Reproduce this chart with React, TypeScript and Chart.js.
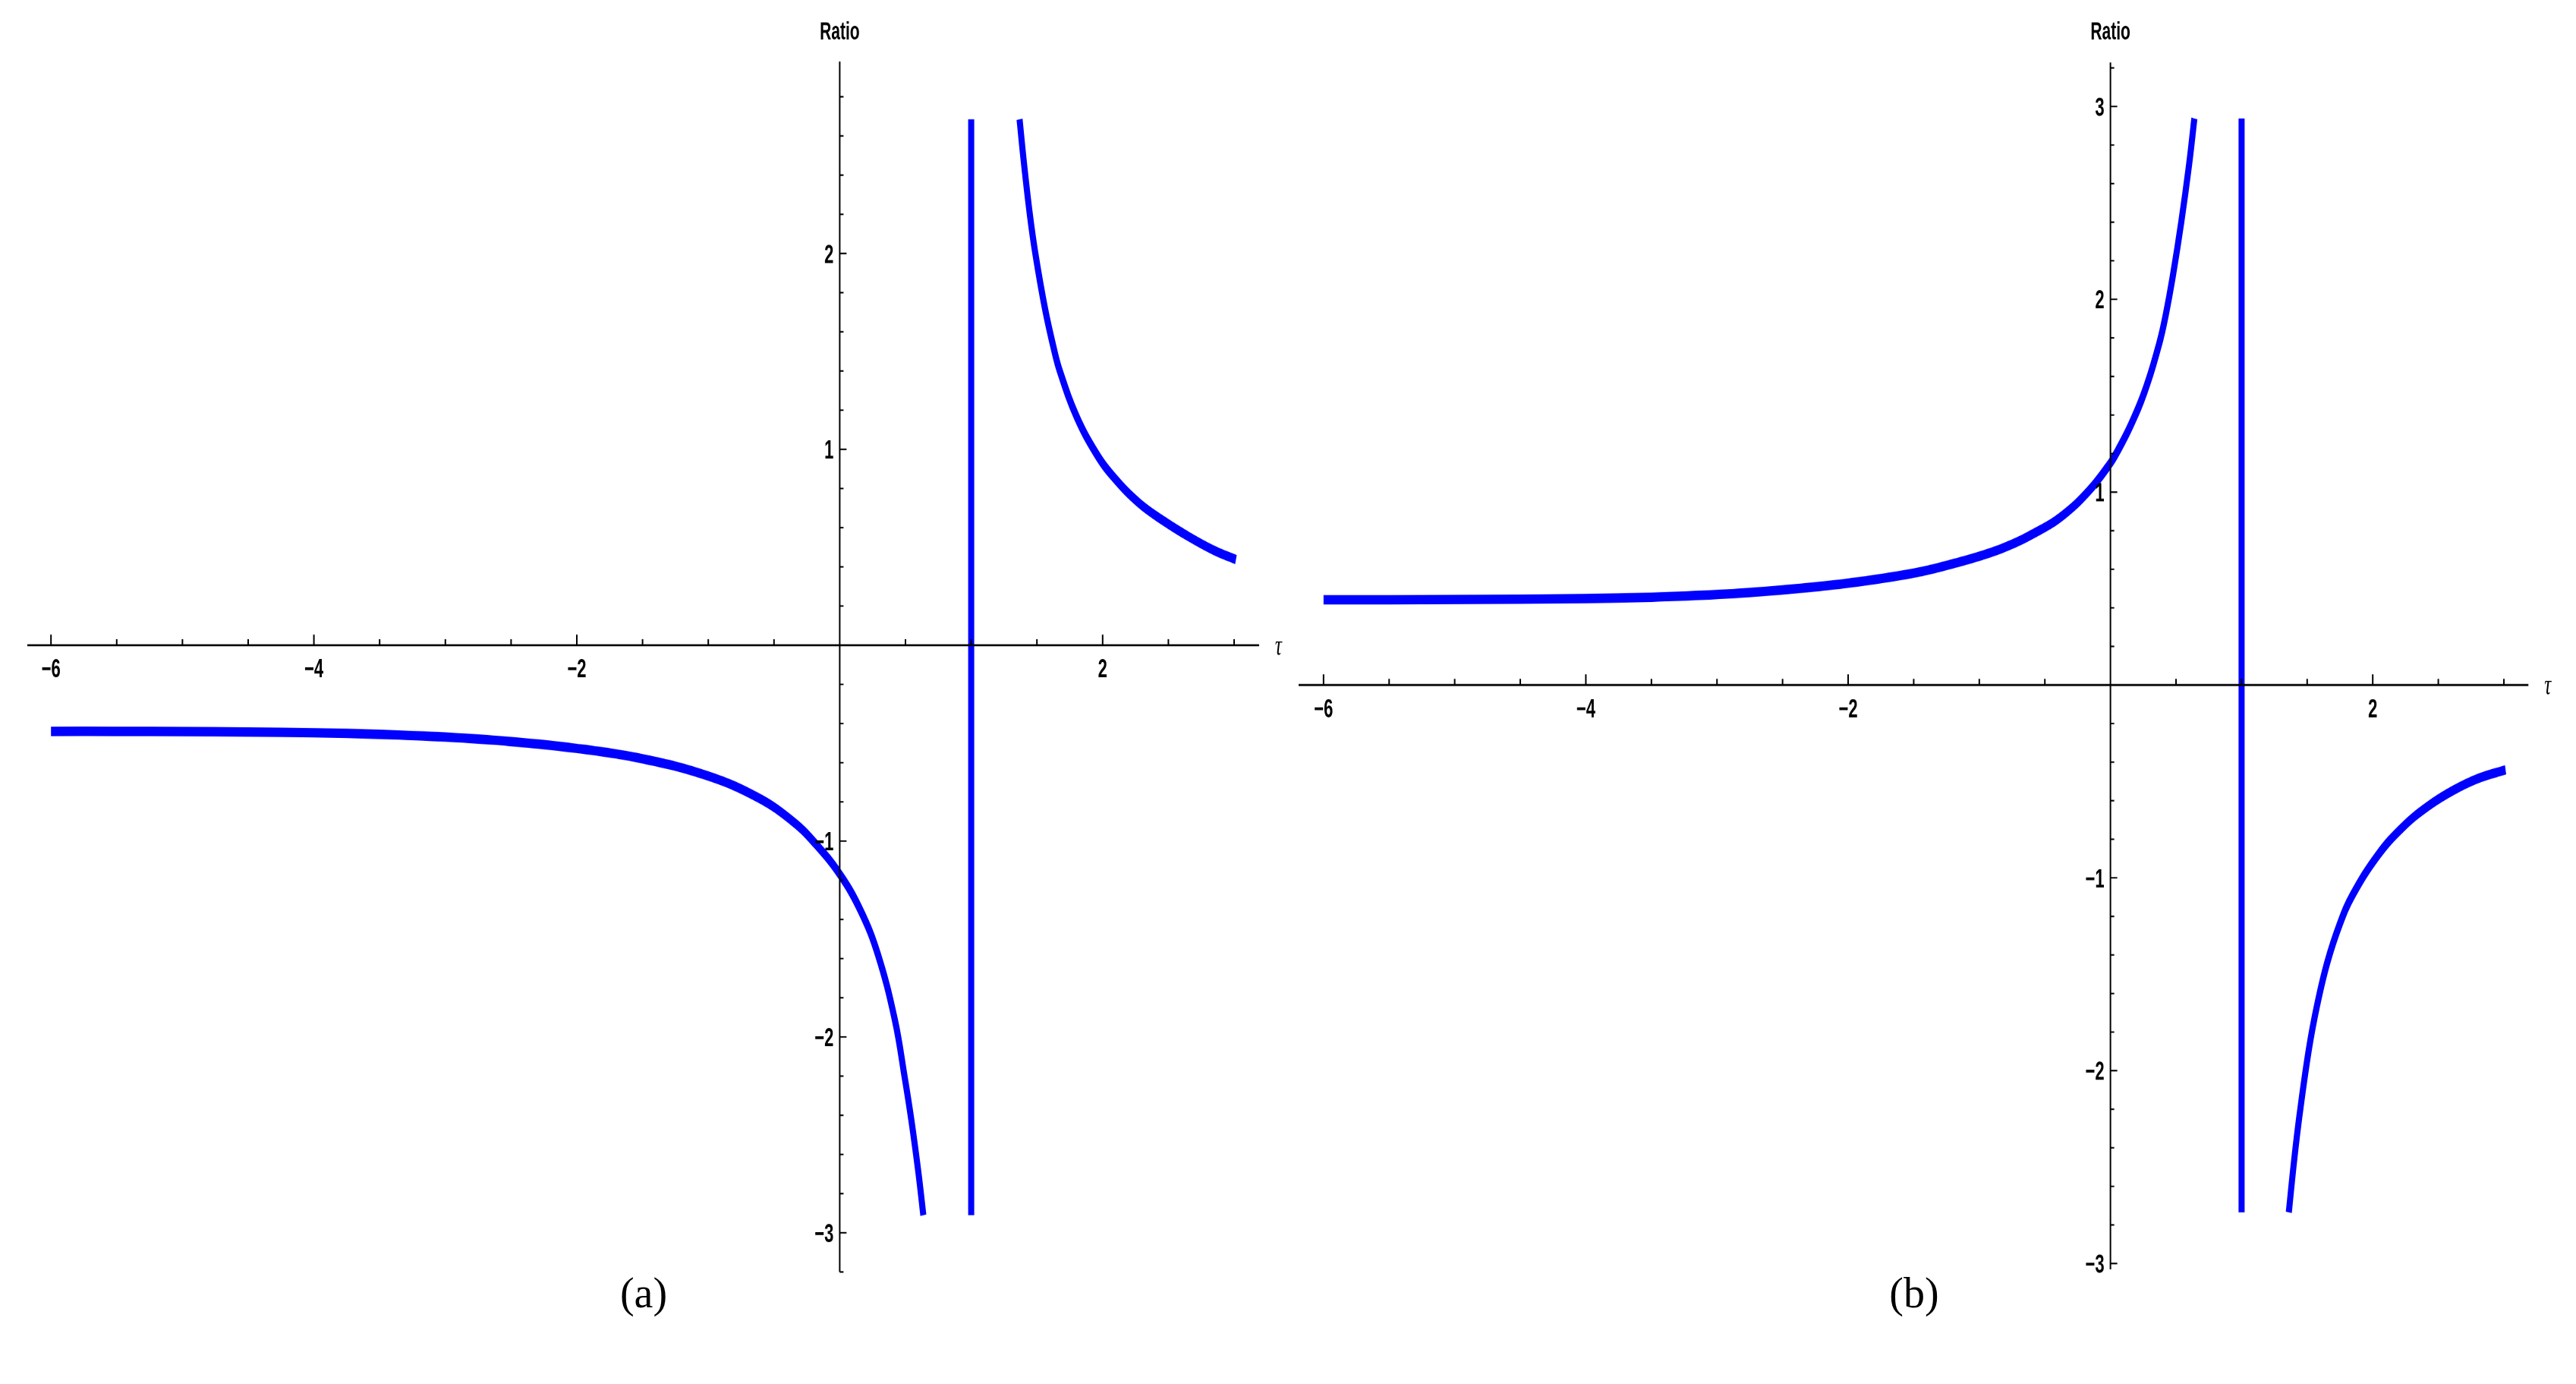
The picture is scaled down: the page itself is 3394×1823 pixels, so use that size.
import React, { useEffect, useRef } from "react";
import { Chart, registerables } from "chart.js";

Chart.register(...registerables);

// ---------------- data ----------------
// Panel (a)
const aLeftTau = [-6, -5.5, -5, -4.5, -4, -3.5, -3, -2.5, -2, -1.5, -1, -0.614, -0.356, -0.2, 0, 0.159, 0.29, 0.419, 0.495, 0.546, 0.598, 0.636];
const aLeftRatio = [-0.44, -0.44, -0.441, -0.443, -0.447, -0.455, -0.469, -0.492, -0.527, -0.58, -0.668, -0.781, -0.9, -1.002, -1.169, -1.355, -1.578, -1.912, -2.21, -2.43, -2.69, -2.91];
const aRightTau = [1.368, 1.4, 1.446, 1.488, 1.561, 1.63, 1.674, 1.8, 1.95, 2.081, 2.273, 2.465, 2.658, 2.85, 3.014];
const aRightRatio = [2.685, 2.47, 2.2, 2.0, 1.72, 1.51, 1.4, 1.17, 0.98, 0.86, 0.728, 0.634, 0.553, 0.483, 0.437];
const aPoleTau = [1, 1];
const aPoleRatio = [-2.91, 2.685];

// Panel (b)
const bLeftTau = [-6, -5.5, -5, -4.5, -4, -3.5, -3, -2.5, -2, -1.5, -1.22, -0.835, -0.546, -0.353, -0.16, 0, 0.052, 0.15, 0.26, 0.372, 0.422, 0.478, 0.54, 0.6, 0.64];
const bLeftRatio = [0.442, 0.442, 0.443, 0.445, 0.448, 0.455, 0.469, 0.493, 0.528, 0.58, 0.625, 0.706, 0.8, 0.885, 1.01, 1.151, 1.21, 1.34, 1.52, 1.77, 1.92, 2.13, 2.4, 2.7, 2.938];
const bRightTau = [1.36, 1.4, 1.441, 1.512, 1.576, 1.653, 1.75, 1.846, 2.039, 2.232, 2.425, 2.618, 2.811, 3.013];
const bRightRatio = [-2.735, -2.47, -2.235, -1.894, -1.66, -1.44, -1.238, -1.09, -0.883, -0.735, -0.627, -0.545, -0.483, -0.44];
const bPoleTau = [1, 1];
const bPoleRatio = [-2.735, 2.938];

// Tick labels
const xTickLabels = [-6, -4, -2, 2];
const aYTickLabels = [2, 1, -1, -2, -3];
const bYTickLabels = [3, 2, 1, -1, -2, -3];
const xMinorStep = 0.5;
const yMinorStep = 0.2;

const axisTitle = "Ratio";
const tauLabel = "τ";
const panelLabels = ["(a)", "(b)"];

// ---------------- layout ----------------
const H0 = 1176;
const K = 1823 / H0; // vertical stretch of the figure

const BLUE = "#0000ff";

function fmt(v: number) {
  return v < 0 ? "\u2212" + Math.abs(v) : String(v);
}

function pts(xs: number[], ys: number[]) {
  return xs.map((x, i) => ({ x, y: ys[i] }));
}

const axesPlugin = {
  id: "mmaAxes",
  afterDatasetsDraw(chart: any, _args: any, opts: any) {
    const { ctx, chartArea } = chart;
    const xs = chart.scales.x;
    const ys = chart.scales.y;
    const x0 = xs.getPixelForValue(0);
    const y0 = ys.getPixelForValue(0);
    ctx.save();
    ctx.strokeStyle = "#000";
    ctx.fillStyle = "#000";
    ctx.lineCap = "butt";

    // axis lines
    ctx.lineWidth = 1.8;
    ctx.beginPath();
    ctx.moveTo(chartArea.left, y0);
    ctx.lineTo(chartArea.right, y0);
    ctx.stroke();
    ctx.lineWidth = 2;
    ctx.beginPath();
    ctx.moveTo(x0, chartArea.top);
    ctx.lineTo(x0, chartArea.bottom);
    ctx.stroke();

    // x ticks (pointing up)
    ctx.lineWidth = 2;
    const xi0 = Math.ceil(xs.min / xMinorStep - 1e-9);
    const xi1 = Math.floor(xs.max / xMinorStep + 1e-9);
    for (let i = xi0; i <= xi1; i++) {
      if (i === 0) continue;
      const v = i * xMinorStep;
      const major = Math.abs(v / 2 - Math.round(v / 2)) < 1e-9;
      const px = xs.getPixelForValue(v);
      ctx.beginPath();
      ctx.moveTo(px, y0);
      ctx.lineTo(px, y0 - (major ? 9 : 5.2));
      ctx.stroke();
    }

    // y ticks (pointing right)
    ctx.lineWidth = 1.3;
    const yi0 = Math.ceil(ys.min / yMinorStep - 1e-9);
    const yi1 = Math.floor(ys.max / yMinorStep + 1e-9);
    for (let i = yi0; i <= yi1; i++) {
      if (i === 0) continue;
      const v = i * yMinorStep;
      const major = Math.abs(v - Math.round(v)) < 1e-9;
      const py = ys.getPixelForValue(v);
      ctx.beginPath();
      ctx.moveTo(x0, py);
      ctx.lineTo(x0 + (major ? 9 : 5), py);
      ctx.stroke();
    }

    // tick labels
    ctx.font = 'bold 22px "Liberation Sans", Arial, sans-serif';
    ctx.textBaseline = "alphabetic";
    ctx.textAlign = "center";
    for (const v of opts.xLabels as number[]) {
      ctx.fillText(fmt(v), xs.getPixelForValue(v), y0 + 27.4);
    }
    ctx.textAlign = "right";
    for (const v of opts.yLabels as number[]) {
      ctx.fillText(fmt(v), x0 - 8, ys.getPixelForValue(v) + 7.9);
    }

    // axis titles
    ctx.font = 'bold 21px "Liberation Sans", Arial, sans-serif';
    ctx.textAlign = "center";
    ctx.fillText(axisTitle, x0, 33.3);
    ctx.font = 'italic 25px "Liberation Serif", "DejaVu Serif", serif';
    ctx.textAlign = "left";
    ctx.fillText(tauLabel, chartArea.right + 21, y0 + 8.2);
    ctx.restore();
  },
};

type PlotProps = {
  left: number;
  width: number;
  padding: { left: number; right: number; top: number; bottom: number };
  xMin: number;
  xMax: number;
  yMin: number;
  yMax: number;
  curves: { x: number; y: number }[][];
  pole: { x: number; y: number }[];
  yLabels: number[];
};

function Plot(p: PlotProps) {
  const ref = useRef<HTMLCanvasElement | null>(null);
  useEffect(() => {
    if (!ref.current) return;
    const datasets: any[] = p.curves.map((c) => ({
      data: c,
      borderColor: BLUE,
      borderWidth: 8,
      pointRadius: 0,
      fill: false,
      tension: 0.4,
      borderCapStyle: "butt",
      borderJoinStyle: "round",
    }));
    datasets.push({
      data: p.pole,
      borderColor: BLUE,
      borderWidth: 8,
      pointRadius: 0,
      fill: false,
      tension: 0,
      borderCapStyle: "butt",
    });
    const chart = new Chart(ref.current, {
      type: "line",
      data: { datasets },
      options: {
        responsive: false,
        animation: false,
        devicePixelRatio: 2,
        events: [],
        layout: { padding: p.padding },
        scales: {
          x: { type: "linear", min: p.xMin, max: p.xMax, display: false },
          y: { type: "linear", min: p.yMin, max: p.yMax, display: false },
        },
        plugins: {
          legend: { display: false },
          tooltip: { enabled: false },
          mmaAxes: { xLabels: xTickLabels, yLabels: p.yLabels },
        } as any,
      },
      plugins: [axesPlugin as any],
    });
    return () => chart.destroy();
  }, []);
  return (
    <div
      style={{
        position: "absolute",
        left: p.left,
        top: 0,
        width: p.width,
        height: H0,
        transform: `scaleY(${K})`,
        transformOrigin: "0 0",
      }}
    >
      <canvas
        ref={ref}
        width={p.width}
        height={H0}
        style={{ width: p.width, height: H0, display: "block" }}
      />
    </div>
  );
}

const labelStyle: React.CSSProperties = {
  position: "absolute",
  top: 1703,
  transform: "translate(-50%, -50%)",
  font: '56px "Liberation Serif", "DejaVu Serif", serif',
  lineHeight: 1,
  color: "#000",
  whiteSpace: "nowrap",
};

export default function App() {
  return (
    <div
      style={{
        position: "absolute",
        left: 0,
        top: 0,
        width: 3394,
        height: 1823,
        background: "#fff",
        overflow: "hidden",
      }}
    >
      <Plot
        left={0}
        width={1700}
        padding={{ left: 36, right: 41.1, top: 52.25, bottom: 95.2 }}
        xMin={-6.18}
        xMax={3.19}
        yMin={-3.2}
        yMax={2.98}
        curves={[pts(aLeftTau, aLeftRatio), pts(aRightTau, aRightRatio)]}
        pole={pts(aPoleTau, aPoleRatio)}
        yLabels={aYTickLabels}
      />
      <Plot
        left={1700}
        width={1694}
        padding={{ left: 11, right: 62.7, top: 53.1, bottom: 97.5 }}
        xMin={-6.19}
        xMax={3.187}
        yMin={-3.03}
        yMax={3.228}
        curves={[pts(bLeftTau, bLeftRatio), pts(bRightTau, bRightRatio)]}
        pole={pts(bPoleTau, bPoleRatio)}
        yLabels={bYTickLabels}
      />
      <div style={{ ...labelStyle, left: 848 }}>{panelLabels[0]}</div>
      <div style={{ ...labelStyle, left: 2522 }}>{panelLabels[1]}</div>
    </div>
  );
}
